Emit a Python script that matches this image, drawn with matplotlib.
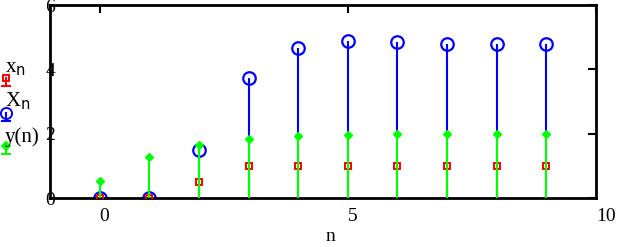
import matplotlib
matplotlib.use("Agg")
import matplotlib.pyplot as plt
from matplotlib.lines import Line2D

n = [0, 1, 2, 3, 4, 5, 6, 7, 8, 9]
xn = [0, 0, 0.5, 1, 1, 1, 1, 1, 1, 1]
Xn = [0, 0, 1.49, 3.74, 4.67, 4.89, 4.86, 4.80, 4.80, 4.80]
yn = [0.53, 1.28, 1.65, 1.83, 1.94, 1.96, 1.99, 1.99, 1.99, 2.0]

xticks = [0, 5, 10]
yticks = [0, 2, 4, 6]

plt.rcParams['font.family'] = ['Liberation Serif', 'DejaVu Serif']

W, H = 628, 247
fig = plt.figure(figsize=(W / 100, H / 100), dpi=100)
ax = fig.add_axes([50 / W, 1 - 198 / H, 546 / W, 193 / H])

blue = '#0000ff'
red = '#ff0000'
green = '#00ff00'

ax.vlines(n, 0, Xn, color=blue, lw=1.5, zorder=2)
ax.plot(n, Xn, 'o', ms=9, mfc='none', mec=blue, mew=1.6, zorder=2)
ax.vlines(n, 0, xn, color=red, lw=1.5, zorder=3)
ax.plot(n, xn, 's', ms=5, mfc='none', mec=red, mew=1.4, zorder=3)
ax.vlines(n, 0, yn, color=green, lw=1.5, zorder=4)
ax.plot(n, yn, 'D', ms=4.5, mfc=green, mec=green, zorder=4)

ax.set_xlim(-1, 10)
ax.set_ylim(0, 6)
for s in ax.spines.values():
    s.set_linewidth(2)

ax.set_xticks(xticks)
ax.set_yticks(yticks)
ax.tick_params(axis='both', direction='in', length=6, width=1.5,
               labelsize=14, bottom=False, left=False, top=True, right=True,
               labeltop=False, labelright=False)
ax.tick_params(axis='y', pad=0)
ax.tick_params(axis='x', pad=7)
for lab in ax.get_yticklabels():
    lab.set_horizontalalignment('center')
for lab in ax.get_xticklabels():
    lab.set_horizontalalignment('left')

fig.text(330 / W, 1 - 236 / H, 'n', fontsize=14, ha='center', va='center')

# legend (manual, text above marker)
def fx(px):
    return px / W

def fy(py):
    return 1 - py / H

legend_items = [
    ('x$_{\\mathrm{n}}$', red, 's', 5, 'none', 68, 78),
    ('X$_{\\mathrm{n}}$', blue, 'o', 8, 'none', 101, 113),
    ('y(n)', green, 'D', 4.5, green, 137, 146),
]
for label, col, mk, ms, mfc, ty, my in legend_items:
    fig.text(fx(5), fy(ty), label, fontsize=15, ha='left', va='center')
    fig.add_artist(Line2D([fx(6), fx(6)], [fy(my), fy(my + 8)], color=col, lw=1.5,
                          transform=fig.transFigure))
    fig.add_artist(Line2D([fx(2), fx(10)], [fy(my + 8), fy(my + 8)], color=col, lw=1.5,
                          transform=fig.transFigure))
    fig.add_artist(Line2D([fx(6)], [fy(my)], marker=mk, ms=ms, mfc=mfc, mec=col, mew=1.4,
                          transform=fig.transFigure))

fig.savefig('out.png', dpi=100)
